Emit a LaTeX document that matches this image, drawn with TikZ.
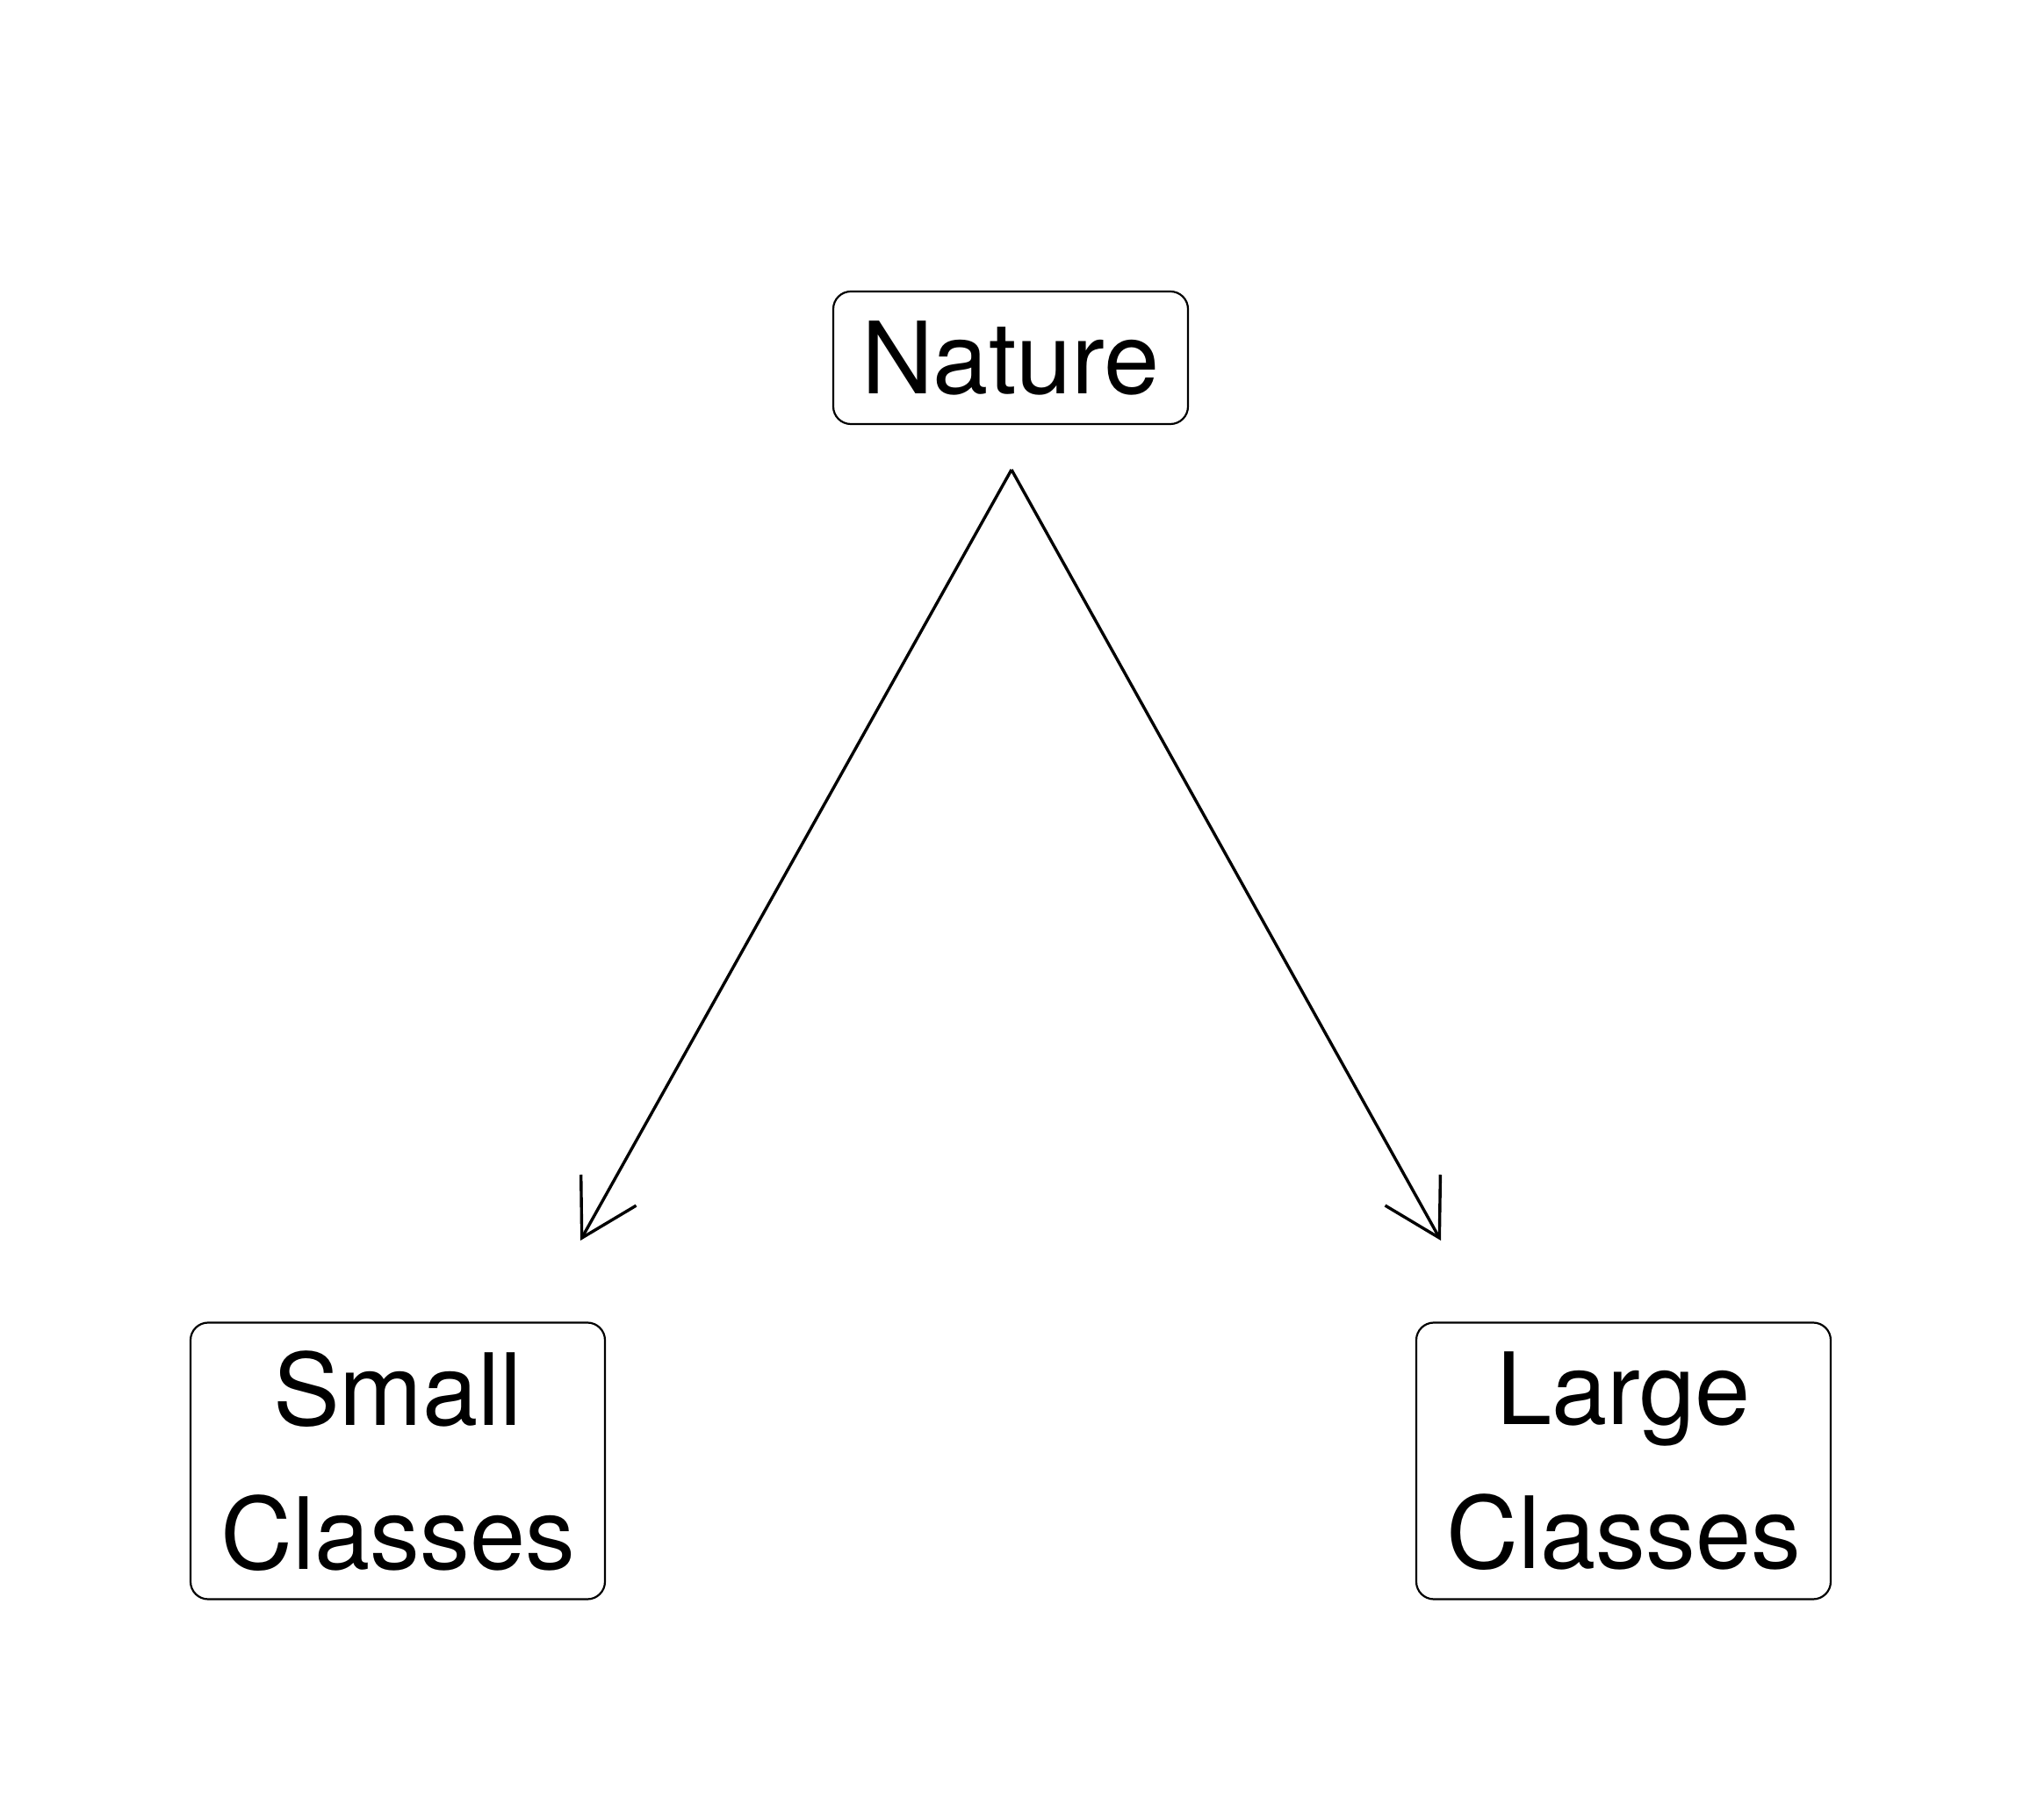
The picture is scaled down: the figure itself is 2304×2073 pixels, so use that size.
\documentclass[tikz,border=0pt]{standalone}
\usepackage{fontspec}
\setmainfont{TeX Gyre Heros}
\usetikzlibrary{arrows.meta}
\begin{document}
\begin{tikzpicture}[x=0.25pt,y=-0.25pt,
  box/.style={draw=black, line width=0.55pt, rounded corners=5pt, inner sep=0pt,
    align=center, font=\fontsize{28.4}{41}\selectfont},
  conn/.style={line width=0.85pt, -{Straight Barb[length=15.6pt,width=18pt,line width=0.85pt]}}]
\useasboundingbox (0,0) rectangle (2304,2073);
\node[box, minimum width=101pt, minimum height=37.75pt] (nature) at (1151,407.5) {Nature};
\node[box, minimum width=118pt, minimum height=78.75pt] (small) at (453,1664) {Small\\Classes};
\node[box, minimum width=118pt, minimum height=78.75pt] (large) at (1849,1664) {Large\\Classes};
\coordinate (apex) at (1152,535);
\coordinate (ltip) at (661,1413);
\coordinate (rtip) at (1641,1413);
\draw[conn] (apex) -- (ltip);
\draw[conn] (apex) -- (rtip);
\end{tikzpicture}
\end{document}
